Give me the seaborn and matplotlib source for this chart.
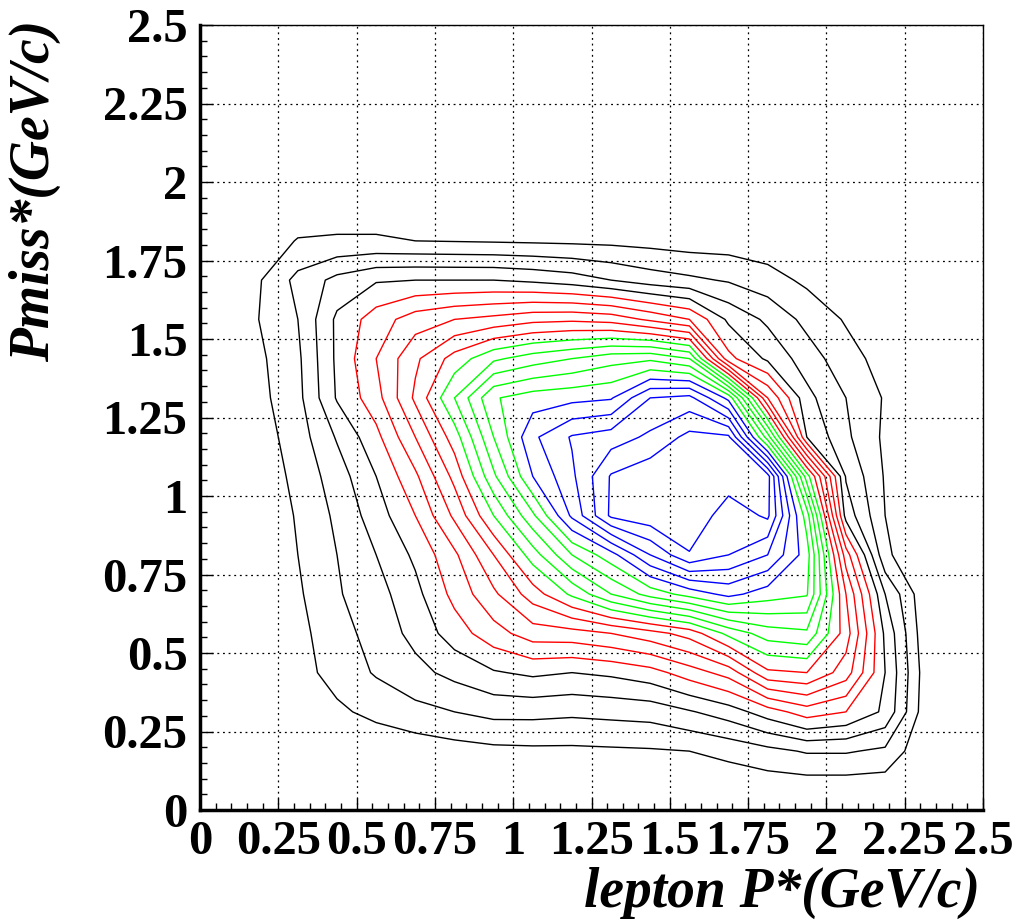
import numpy as np
import matplotlib
matplotlib.use("Agg")
import matplotlib.pyplot as plt
import seaborn as sns
from matplotlib.ticker import MultipleLocator

# ---- data: 2D histogram (20x20 bins of 0.125 GeV/c), bin contents in units of max/20 ----
lepton_p = [0.0625, 0.1875, 0.3125, 0.4375, 0.5625, 0.6875, 0.8125, 0.9375, 1.0625, 1.1875,
            1.3125, 1.4375, 1.5625, 1.6875, 1.8125, 1.9375, 2.0625, 2.1875, 2.3125, 2.4375]
pmiss = [0.0625, 0.1875, 0.3125, 0.4375, 0.5625, 0.6875, 0.8125, 0.9375, 1.0625, 1.1875,
         1.3125, 1.4375, 1.5625, 1.6875, 1.8125, 1.9375, 2.0625, 2.1875, 2.3125, 2.4375]

# rows: pmiss bins (bottom to top), columns: lepton_p bins (left to right)
counts = [
    [0, 0, 0, 0, 0, 0, 0, 0, 0, 0, 0, 0.05, 0.1, 0.2, 0.3, 0.3, 0.3, 0.3, 0, 0],
    [0, 0, 0, 0.1, 0.2, 0.4, 0.6, 0.75, 0.8, 0.8, 0.85, 0.9, 1.0, 1.3, 1.7, 2.1, 2.1, 1.8, 0.2, 0],
    [0, 0, 0.3, 0.8, 1.3, 1.7, 2.0, 2.3, 2.3, 2.2, 2.3, 2.4, 2.9, 3.5, 4.5, 5.5, 5.0, 3.8, 0.5, 0],
    [0, 0, 0.6, 1.4, 2.1, 2.7, 3.3, 3.9, 4.2, 4.0, 4.2, 4.6, 5.5, 6.4, 8.8, 9.0, 7.5, 4.0, 0.6, 0],
    [0, 0, 0.7, 1.6, 2.4, 3.3, 4.5, 5.6, 6.5, 6.6, 7.0, 7.6, 8.4, 10.3, 11.5, 11.8, 8.5, 3.8, 0.4, 0],
    [0, 0.1, 0.85, 1.9, 2.6, 3.7, 5.3, 6.8, 8.5, 10.2, 12.0, 13.4, 14.4, 15.3, 14.5, 14.1, 8.0, 3.0, 0.3, 0],
    [0, 0.15, 1.0, 2.0, 3.0, 4.2, 5.8, 8.0, 10.5, 13.0, 14.6, 17.0, 18.9, 18.0, 17.0, 14.5, 6.5, 1.2, 0.1, 0],
    [0, 0.2, 1.1, 2.2, 3.5, 5.0, 7.2, 10.0, 12.8, 16.2, 19.2, 19.7, 20.0, 18.3, 19.2, 13.5, 3.6, 1.0, 0.25, 0],
    [0, 0.3, 1.3, 2.5, 4.0, 5.8, 8.3, 11.8, 15.0, 16.8, 19.1, 19.7, 20.0, 19.7, 19.4, 10.5, 2.9, 0.9, 0.2, 0],
    [0, 0.5, 1.5, 3.1, 4.7, 7.0, 9.5, 13.0, 15.8, 17.1, 17.5, 18.2, 19.3, 19.2, 12.5, 4.0, 2.2, 0.8, 0.1, 0],
    [0, 0.7, 1.7, 4.1, 5.6, 8.2, 11.0, 13.9, 14.5, 14.7, 14.9, 17.0, 17.3, 14.7, 7.0, 3.3, 2.0, 0.9, 0.1, 0],
    [0, 0.8, 1.8, 4.2, 6.0, 7.8, 9.4, 10.8, 11.5, 12.0, 12.6, 12.8, 12.0, 5.3, 3.8, 2.5, 1.4, 0.6, 0, 0],
    [0, 1.0, 2.0, 4.2, 5.5, 6.5, 7.0, 7.3, 7.7, 7.8, 7.6, 6.8, 6.0, 3.8, 2.8, 1.7, 0.9, 0.3, 0, 0],
    [0, 0.9, 2.3, 3.3, 3.9, 4.0, 4.0, 4.0, 3.8, 3.5, 3.0, 2.5, 2.2, 1.9, 1.4, 0.8, 0.5, 0.2, 0, 0],
    [0, 0.5, 1.05, 1.1, 1.1, 1.0, 0.95, 0.9, 0.85, 0.8, 0.75, 0.65, 0.5, 0.5, 0.4, 0.2, 0, 0, 0, 0],
    [0, 0, 0.4, 0.5, 0.5, 0.5, 0.4, 0.4, 0.4, 0.3, 0.3, 0.3, 0.2, 0.2, 0.1, 0, 0, 0, 0, 0],
    [0] * 20,
    [0] * 20,
    [0] * 20,
    [0] * 20,
]

contour_levels = [1, 2, 3, 4, 5, 6, 7, 8, 9, 10, 11, 12, 13, 14, 15, 16, 17, 18, 19]
level_colors = (["#000000"] * 4 + ["#ff0000"] * 5 + ["#00ff00"] * 5 + ["#0000ff"] * 5)

tick_values = [0, 0.25, 0.5, 0.75, 1, 1.25, 1.5, 1.75, 2, 2.25, 2.5]
tick_labels = ["0", "0.25", "0.5", "0.75", "1", "1.25", "1.5", "1.75", "2", "2.25", "2.5"]

x_title = "lepton P*(GeV/c)"
y_title = "Pmiss*(GeV/c)"

# ---- style ----
sns.set_theme(style="white")
plt.rcParams["font.family"] = ["Liberation Serif", "DejaVu Serif"]

W, H = 1025, 923
fig = plt.figure(figsize=(W / 100, H / 100), dpi=100)
fig.patch.set_facecolor("white")
ax = fig.add_axes([200 / W, 1 - 810 / H, 783 / W, 785 / H])
ax.set_facecolor("white")

X, Y = np.meshgrid(np.array(lepton_p), np.array(pmiss))
Z = np.array(counts, dtype=float)
ax.contour(X, Y, Z, levels=contour_levels, colors=level_colors, linewidths=1.0)

ax.set_xlim(0, 2.5)
ax.set_ylim(0, 2.5)
ax.set_xticks(tick_values)
ax.set_xticklabels(tick_labels)
ax.set_yticks(tick_values)
ax.set_yticklabels(tick_labels)
ax.xaxis.set_minor_locator(MultipleLocator(0.05))
ax.yaxis.set_minor_locator(MultipleLocator(0.05))

ax.grid(True, which="major", color="black", linestyle=(0, (1.5, 3.0)), linewidth=0.9)
ax.set_axisbelow(True)

ax.tick_params(axis="both", which="both", direction="in", top=False, right=False,
               bottom=True, left=True, color="black")
ax.tick_params(axis="both", which="major", length=9, width=1.0, labelsize=35, pad=9)
ax.tick_params(axis="x", which="major", pad=7)
ax.tick_params(axis="both", which="minor", length=5, width=1.0)
for lab in ax.get_xticklabels() + ax.get_yticklabels():
    lab.set_fontweight("bold")
    lab.set_color("black")

for side in ["top", "right"]:
    ax.spines[side].set_linewidth(1.0)
    ax.spines[side].set_color("black")
for side in ["left", "bottom"]:
    ax.spines[side].set_linewidth(2.5)
    ax.spines[side].set_color("black")

fig.text(980 / W, 1 - 893 / H, x_title, ha="right", va="center", fontsize=40,
         fontstyle="italic", fontweight="bold", color="black")
fig.text(35 / W, 1 - 20 / H, y_title, ha="center", va="top", rotation=90, fontsize=40,
         fontstyle="italic", fontweight="bold", color="black")

fig.savefig("out.png", dpi=100, facecolor="white")
